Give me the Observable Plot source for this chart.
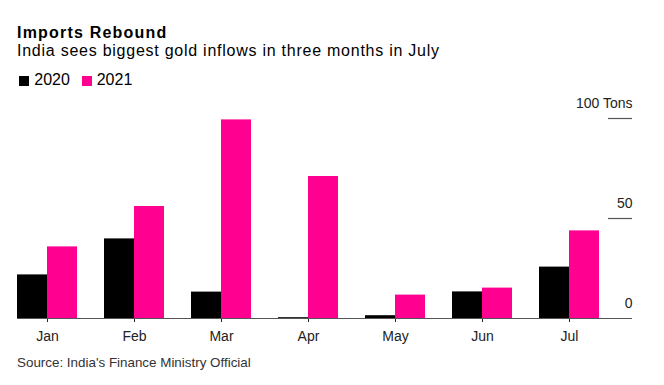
<!DOCTYPE html>
<html>
<head>
<meta charset="utf-8">
<script src="https://cdn.jsdelivr.net/npm/d3@7"></script>
<script src="https://cdn.jsdelivr.net/npm/@observablehq/plot@0.6"></script>
<style>
  html, body { margin: 0; padding: 0; background: #fff; }
  body { width: 664px; height: 385px; position: relative; overflow: hidden;
         font-family: "Liberation Sans", Arial, sans-serif; color: #000; }
  .abs { position: absolute; left: 17px; white-space: nowrap; }
  #title { top: 24.8px; font-size: 16px; line-height: 15px; font-weight: bold; letter-spacing: 1.2px; }
  #subtitle { top: 43px; font-size: 16px; line-height: 15px; letter-spacing: 0.75px; }
  .sw { position: absolute; top: 76px; width: 10px; height: 10px; }
  .lt { position: absolute; top: 72px; font-size: 16px; line-height: 15px; white-space: nowrap; }
  #chart { position: absolute; left: 0; top: 95px; }
  #source { top: 356px; font-size: 13.4px; line-height: 13px; color: #333; }
</style>
</head>
<body>
<div id="title" class="abs">Imports Rebound</div>
<div id="subtitle" class="abs">India sees biggest gold inflows in three months in July</div>
<div id="legend"></div>
<div id="chart"></div>
<div id="source" class="abs">Source: India's Finance Ministry Official</div>
<script>
const months = ["Jan", "Feb", "Mar", "Apr", "May", "Jun", "Jul"];
const series = ["2020", "2021"];
const values2020 = [21.8, 39.8, 13.2, 0.4, 1.4, 13.3, 25.7];
const values2021 = [35.8, 56, 99.3, 71, 11.7, 15.2, 43.8];
const yTicks = [0, 50, 100];
const yTickLabels = ["0", "50", "100 Tons"];
const colors = ["#000000", "#ff0090"];

// legend
const legend = document.getElementById("legend");
const swatchX = [19.3, 81.7];
series.forEach((s, i) => {
  const sw = document.createElement("span");
  sw.className = "sw";
  sw.style.left = swatchX[i] + "px";
  sw.style.background = colors[i];
  legend.appendChild(sw);
  const t = document.createElement("span");
  t.className = "lt";
  t.style.left = (swatchX[i] + 15) + "px";
  t.textContent = s;
  legend.appendChild(t);
});

const d2020 = months.map((m, i) => ({month: m, value: values2020[i]}));
const d2021 = months.map((m, i) => ({month: m, value: values2021[i]}));
const tickData = yTicks.map((v, i) => ({v, label: yTickLabels[i]}));

const chart = Plot.plot({
  width: 664,
  height: 255,
  marginLeft: 17,
  marginRight: 32,
  marginTop: 23,
  marginBottom: 32,
  style: {fontFamily: "'Liberation Sans', Arial, sans-serif", fontSize: "14px", color: "#222", background: "transparent"},
  x: {domain: months, range: [3.5, 612.5], paddingInner: 27 / 87, paddingOuter: 27 / 174, tickSize: 4, tickPadding: 9, label: null},
  y: {domain: [0, 100], axis: null},
  marks: [
    Plot.barY(d2020, {x: "month", y: "value", fill: colors[0], insetRight: 30}),
    Plot.barY(d2021, {x: "month", y: "value", fill: colors[1], insetLeft: 30}),
    Plot.ruleY([0], {stroke: "#555", strokeWidth: 1.2}),
    Plot.ruleY(yTicks.filter(v => v > 0), {stroke: "#555", strokeWidth: 1.2, insetLeft: 591}),
    Plot.text(tickData, {y: "v", text: "label", frameAnchor: "right", textAnchor: "end", dy: -15, fill: "#222", fontSize: 14})
  ]
});
document.getElementById("chart").appendChild(chart);
</script>
</body>
</html>
